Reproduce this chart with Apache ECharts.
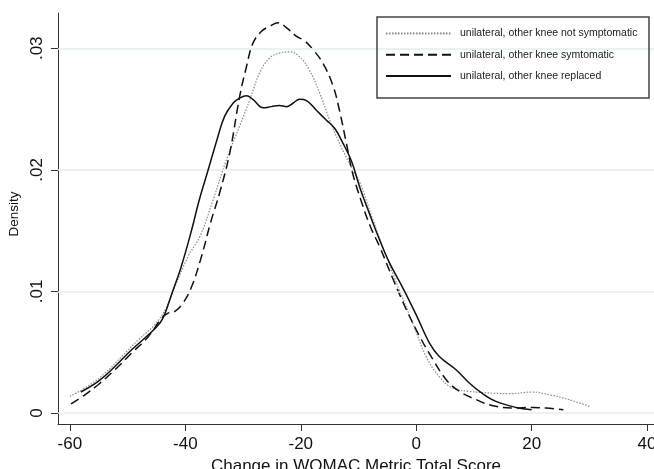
<!DOCTYPE html>
<html>
<head>
<meta charset="utf-8">
<script src="https://cdn.jsdelivr.net/npm/echarts@6/dist/echarts.min.js"></script>
<style>html,body{margin:0;padding:0;background:#fff}#c{width:654px;height:469px}</style>
</head>
<body>
<div id="c"></div>
<script>
const xTicks = [-60, -40, -20, 0, 20, 40];
const yTicks = [0, 0.01, 0.02, 0.03];
const yTickLabels = ['0', '.01', '.02', '.03'];
const seriesNames = ['unilateral, other knee not symptomatic', 'unilateral, other knee symtomatic', 'unilateral, other knee replaced'];

const notSymptomatic = [
  [-60,0.00137],[-56.8,0.00224],[-53.9,0.00329],[-51.0,0.00466],[-48.2,0.0060],[-45.3,0.00726],
  [-43.5,0.0085],[-41.8,0.0104],[-39.5,0.0129],[-37.5,0.0145],[-35.2,0.0175],[-32.9,0.0208],
  [-30.6,0.0236],[-28.8,0.0258],[-27.1,0.0280],[-25.4,0.0292],[-23.7,0.0296],[-21.9,0.0297],
  [-20.2,0.0293],[-18.5,0.0282],[-16.7,0.0263],[-15.0,0.0241],[-13.3,0.0222],[-11.0,0.0200],
  [-9.8,0.0190],[-7.5,0.0159],[-5.2,0.0129],[-2.9,0.0101],[-0.6,0.0074],[1.7,0.00466],
  [4.0,0.0030],[6.3,0.00206],[9.2,0.00178],[13.3,0.00164],[16.1,0.00159],[20.2,0.00173],
  [23.1,0.0015],[26.5,0.0011],[30.0,0.00055]
];
const symptomatic = [
  [-59.8,0.00076],[-57.4,0.0015],[-55.1,0.00233],[-52.2,0.00356],[-49.3,0.00493],[-46.4,0.0063],
  [-44.1,0.0078],[-43.0,0.00822],[-41.8,0.00836],[-40.4,0.00905],[-38.9,0.0104],[-37.2,0.01288],
  [-35.6,0.0157],[-34.0,0.0182],[-32.3,0.0214],[-30.6,0.0260],[-29.4,0.0285],[-28.3,0.0304],
  [-26.8,0.0314],[-25.4,0.0318],[-23.9,0.0321],[-22.5,0.0317],[-20.8,0.0310],[-19.3,0.0306],
  [-17.9,0.0299],[-16.2,0.0288],[-14.4,0.0269],[-13.3,0.0249],[-12.1,0.0222],[-11.0,0.0197],
  [-9.5,0.0174],[-8.0,0.0154],[-6.35,0.0137],[-4.0,0.0110],[-1.7,0.0085],[0.6,0.0063],
  [2.9,0.0044],[5.2,0.00274],[7.5,0.00178],[10.4,0.0011],[13.3,0.0006],[16.7,0.00041],
  [20.2,0.00046],[22.5,0.00041],[25.5,0.00027]
];
const replaced = [
  [-58.1,0.00173],[-55.1,0.0026],[-52.2,0.00383],[-49.3,0.0052],[-46.4,0.00644],[-44.4,0.0074],
  [-43.5,0.00822],[-42.4,0.00973],[-40.7,0.01206],[-38.9,0.01507],[-37.6,0.0175],[-36.1,0.0199],
  [-34.5,0.0225],[-33.2,0.0244],[-31.7,0.0255],[-30.6,0.0259],[-29.4,0.0261],[-28.3,0.0258],
  [-26.5,0.0251],[-25.1,0.0252],[-23.7,0.0253],[-22.4,0.0252],[-21.3,0.0255],[-20.2,0.0258],
  [-19.0,0.0257],[-17.3,0.0249],[-15.6,0.0241],[-14.1,0.0234],[-12.7,0.0222],[-11.2,0.0207],
  [-9.8,0.0186],[-8.1,0.0164],[-6.35,0.01425],[-4.6,0.01233],[-2.3,0.01028],[0,0.00808],
  [2.3,0.00576],[4.0,0.00465],[6.9,0.00356],[9.2,0.00247],[11.5,0.00159],[13.8,0.00096],
  [17.3,0.00046],[20.0,0.00027]
];

const font = '"Liberation Sans", Arial, sans-serif';
const chart = echarts.init(document.getElementById('c'), null, {renderer: 'canvas'});
chart.setOption({
  animation: false,
  backgroundColor: '#fff',
  grid: {left: 58, right: 0, top: 13, bottom: 45, containLabel: false, outerBoundsMode: 'none'},
  xAxis: {
    type: 'value', min: -62.06, max: 41.2,
    name: 'Change in WOMAC Metric Total Score', nameLocation: 'middle', nameGap: 30,
    nameTextStyle: {fontFamily: font, fontSize: 17, color: '#111'},
    axisLine: {show: true, onZero: false, lineStyle: {color: '#333', width: 1}},
    axisTick: {show: true, length: 7, inside: false, customValues: xTicks, lineStyle: {color: '#333'}},
    axisLabel: {customValues: xTicks, margin: 12, fontFamily: font, fontSize: 17, color: '#111'},
    splitLine: {show: false}
  },
  yAxis: {
    type: 'value', min: -0.0009, max: 0.0329,
    name: 'Density', nameLocation: 'middle', nameGap: 31, nameRotate: 90,
    nameTextStyle: {fontFamily: font, fontSize: 13.5, color: '#111', padding: [0, 0, 0, 9]},
    axisLine: {show: true, onZero: false, lineStyle: {color: '#333', width: 1}},
    axisTick: {show: true, length: 7, inside: false, customValues: yTicks, lineStyle: {color: '#333'}},
    axisLabel: {customValues: yTicks, rotate: 90, margin: 12, fontFamily: font, fontSize: 17, color: '#111',
      formatter: v => { const i = yTicks.findIndex(t => Math.abs(t - v) < 1e-9); return i >= 0 ? yTickLabels[i] : ''; }},
    splitLine: {show: false}
  },
  legend: {
    data: seriesNames, orient: 'vertical', left: 385, top: 28, padding: 0,
    itemWidth: 65, itemHeight: 14, itemGap: 10,
    itemStyle: {opacity: 0},
    textStyle: {fontFamily: font, fontSize: 10.5, color: '#222', padding: [0, 0, 0, 4]}
  },
  graphic: [{
    type: 'rect', z: 100, silent: true,
    shape: {x: 377, y: 17, width: 272, height: 81},
    style: {fill: 'none', stroke: '#444', lineWidth: 1.5}
  }],
  series: [
    {
      name: 'grid', type: 'line', data: [], z: 1, silent: true,
      markLine: {
        silent: true, symbol: 'none', label: {show: false},
        lineStyle: {color: '#e6eef1', width: 1.5, type: 'solid'},
        data: yTicks.map(v => ({yAxis: v}))
      }
    },
    {
      name: seriesNames[0], type: 'line', data: notSymptomatic, showSymbol: false, symbol: 'none', smooth: 0.4, z: 3,
      lineStyle: {color: '#8a8a8a', width: 1.2, type: [1.5, 1.5]}, itemStyle: {color: '#8a8a8a'}
    },
    {
      name: seriesNames[1], type: 'line', data: symptomatic, showSymbol: false, symbol: 'none', smooth: 0.4, z: 4,
      lineStyle: {color: '#111', width: 1.5, type: [9, 5]}, itemStyle: {color: '#111'}
    },
    {
      name: seriesNames[2], type: 'line', data: replaced, showSymbol: false, symbol: 'none', smooth: 0.4, z: 5,
      lineStyle: {color: '#111', width: 1.5, type: 'solid'}, itemStyle: {color: '#111'}
    }
  ]
});
</script>
</body>
</html>
